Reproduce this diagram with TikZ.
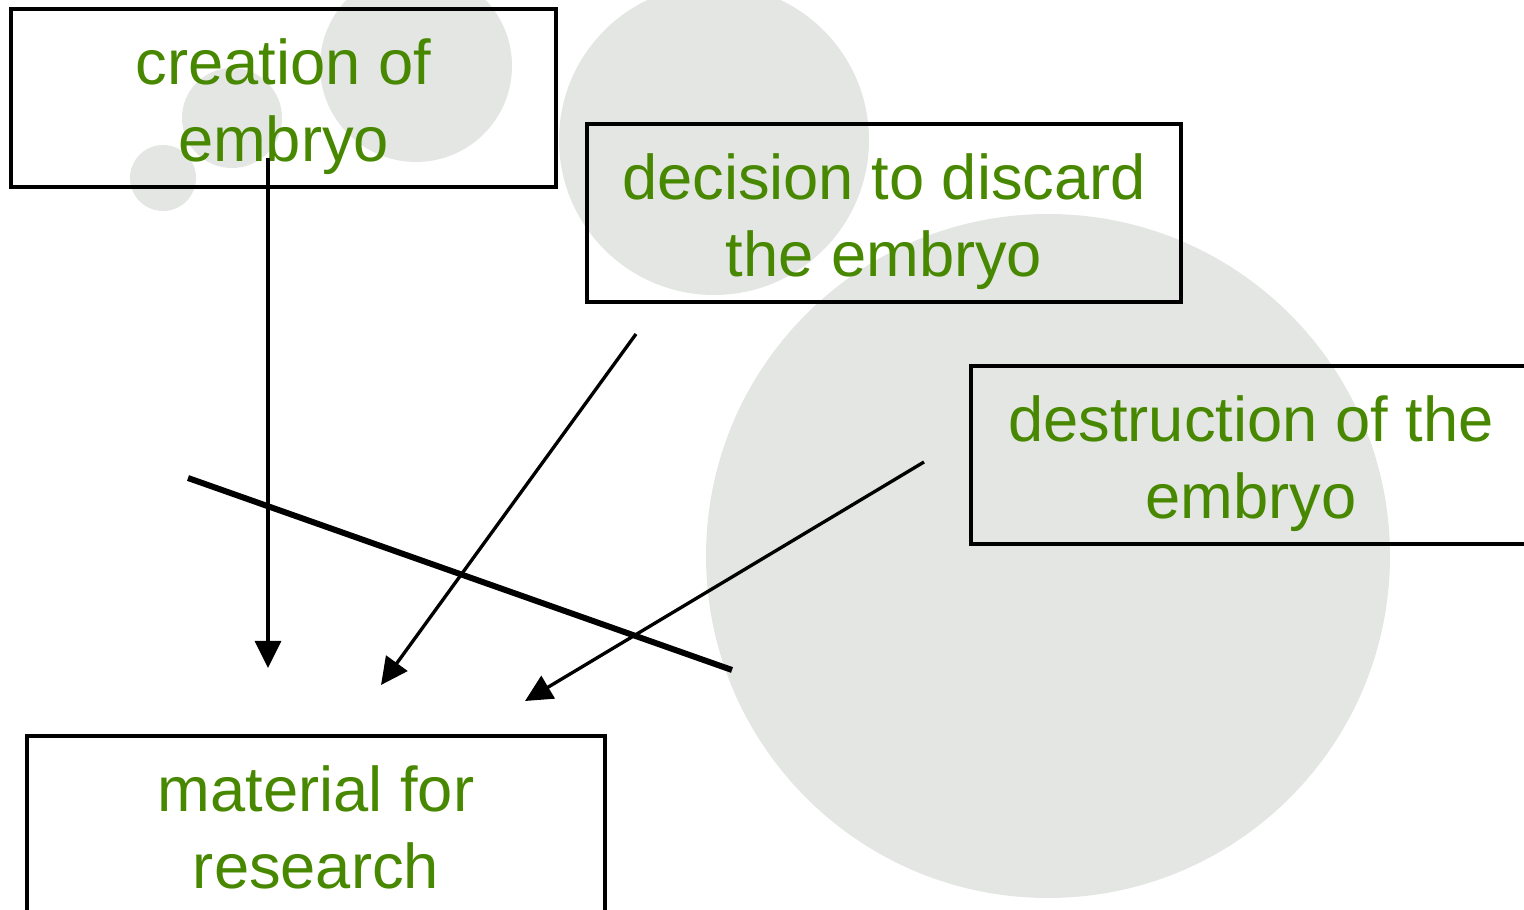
\documentclass[tikz,border=0pt]{standalone}
\usepackage{fontspec}
\setmainfont{Liberation Sans}
\usepackage{tikz}
\usetikzlibrary{positioning,arrows.meta}
\definecolor{leafgreen}{RGB}{72,136,0}
\definecolor{bubblegray}{RGB}{227,230,227}

\begin{document}
\begin{tikzpicture}[>={Triangle[length=2.7mm,width=2.6mm]},
			box/.style={
				draw,
				line width=1.1pt,
				minimum height=1.78cm,
				text height=1.28cm,
				text depth=0pt,
				align=center,
				text=leafgreen,
				font=\fontsize{18}{22}\selectfont
			},
			link/.style={->,line width=0.95pt}]
			
			\useasboundingbox (0,0) rectangle (15.24,-9.10);
			
			% background bubbles
			\fill[bubblegray] (10.48,-5.56) circle (3.42);
			\fill[bubblegray] (7.14,-1.40) circle (1.55);
			\fill[bubblegray] (4.16,-0.66) circle (0.96);
			\fill[bubblegray] (2.32,-1.18) circle (0.50);
			\fill[bubblegray] (1.63,-1.78) circle (0.33);
			
			\node (creation)[box,minimum width=5.45cm] at (2.835,-0.98){creation of\\embryo};
			
			\node (decision)[box,minimum width=5.94cm] at (8.84,-2.13){decision to discard\\the embryo};
			
			\node (destruction)[box,minimum width=5.60cm] at (12.51,-4.55){destruction of the\\embryo};
			
			\node (material)[box,minimum width=5.78cm] at (3.16,-8.25){material for\\research};
			
			\coordinate (c1) at (2.68,-1.58);
			\coordinate (c1end) at (2.68,-6.68);
			\coordinate (d1) at (6.36,-3.34);
			\coordinate (d1end) at (3.81,-6.85);
			\coordinate (e1) at (9.24,-4.62);
			\coordinate (e1end) at (5.25,-7.01);
			\coordinate (cutA) at (1.88,-4.78);
			\coordinate (cutB) at (7.32,-6.70);
			
			\draw[link](c1)--(c1end);
			
			\draw[link](d1)--(d1end);
			
			\draw[link](e1)--(e1end);
			
			\draw[line width=1.7pt](cutA)--(cutB);
			
		\end{tikzpicture}
\end{document}
